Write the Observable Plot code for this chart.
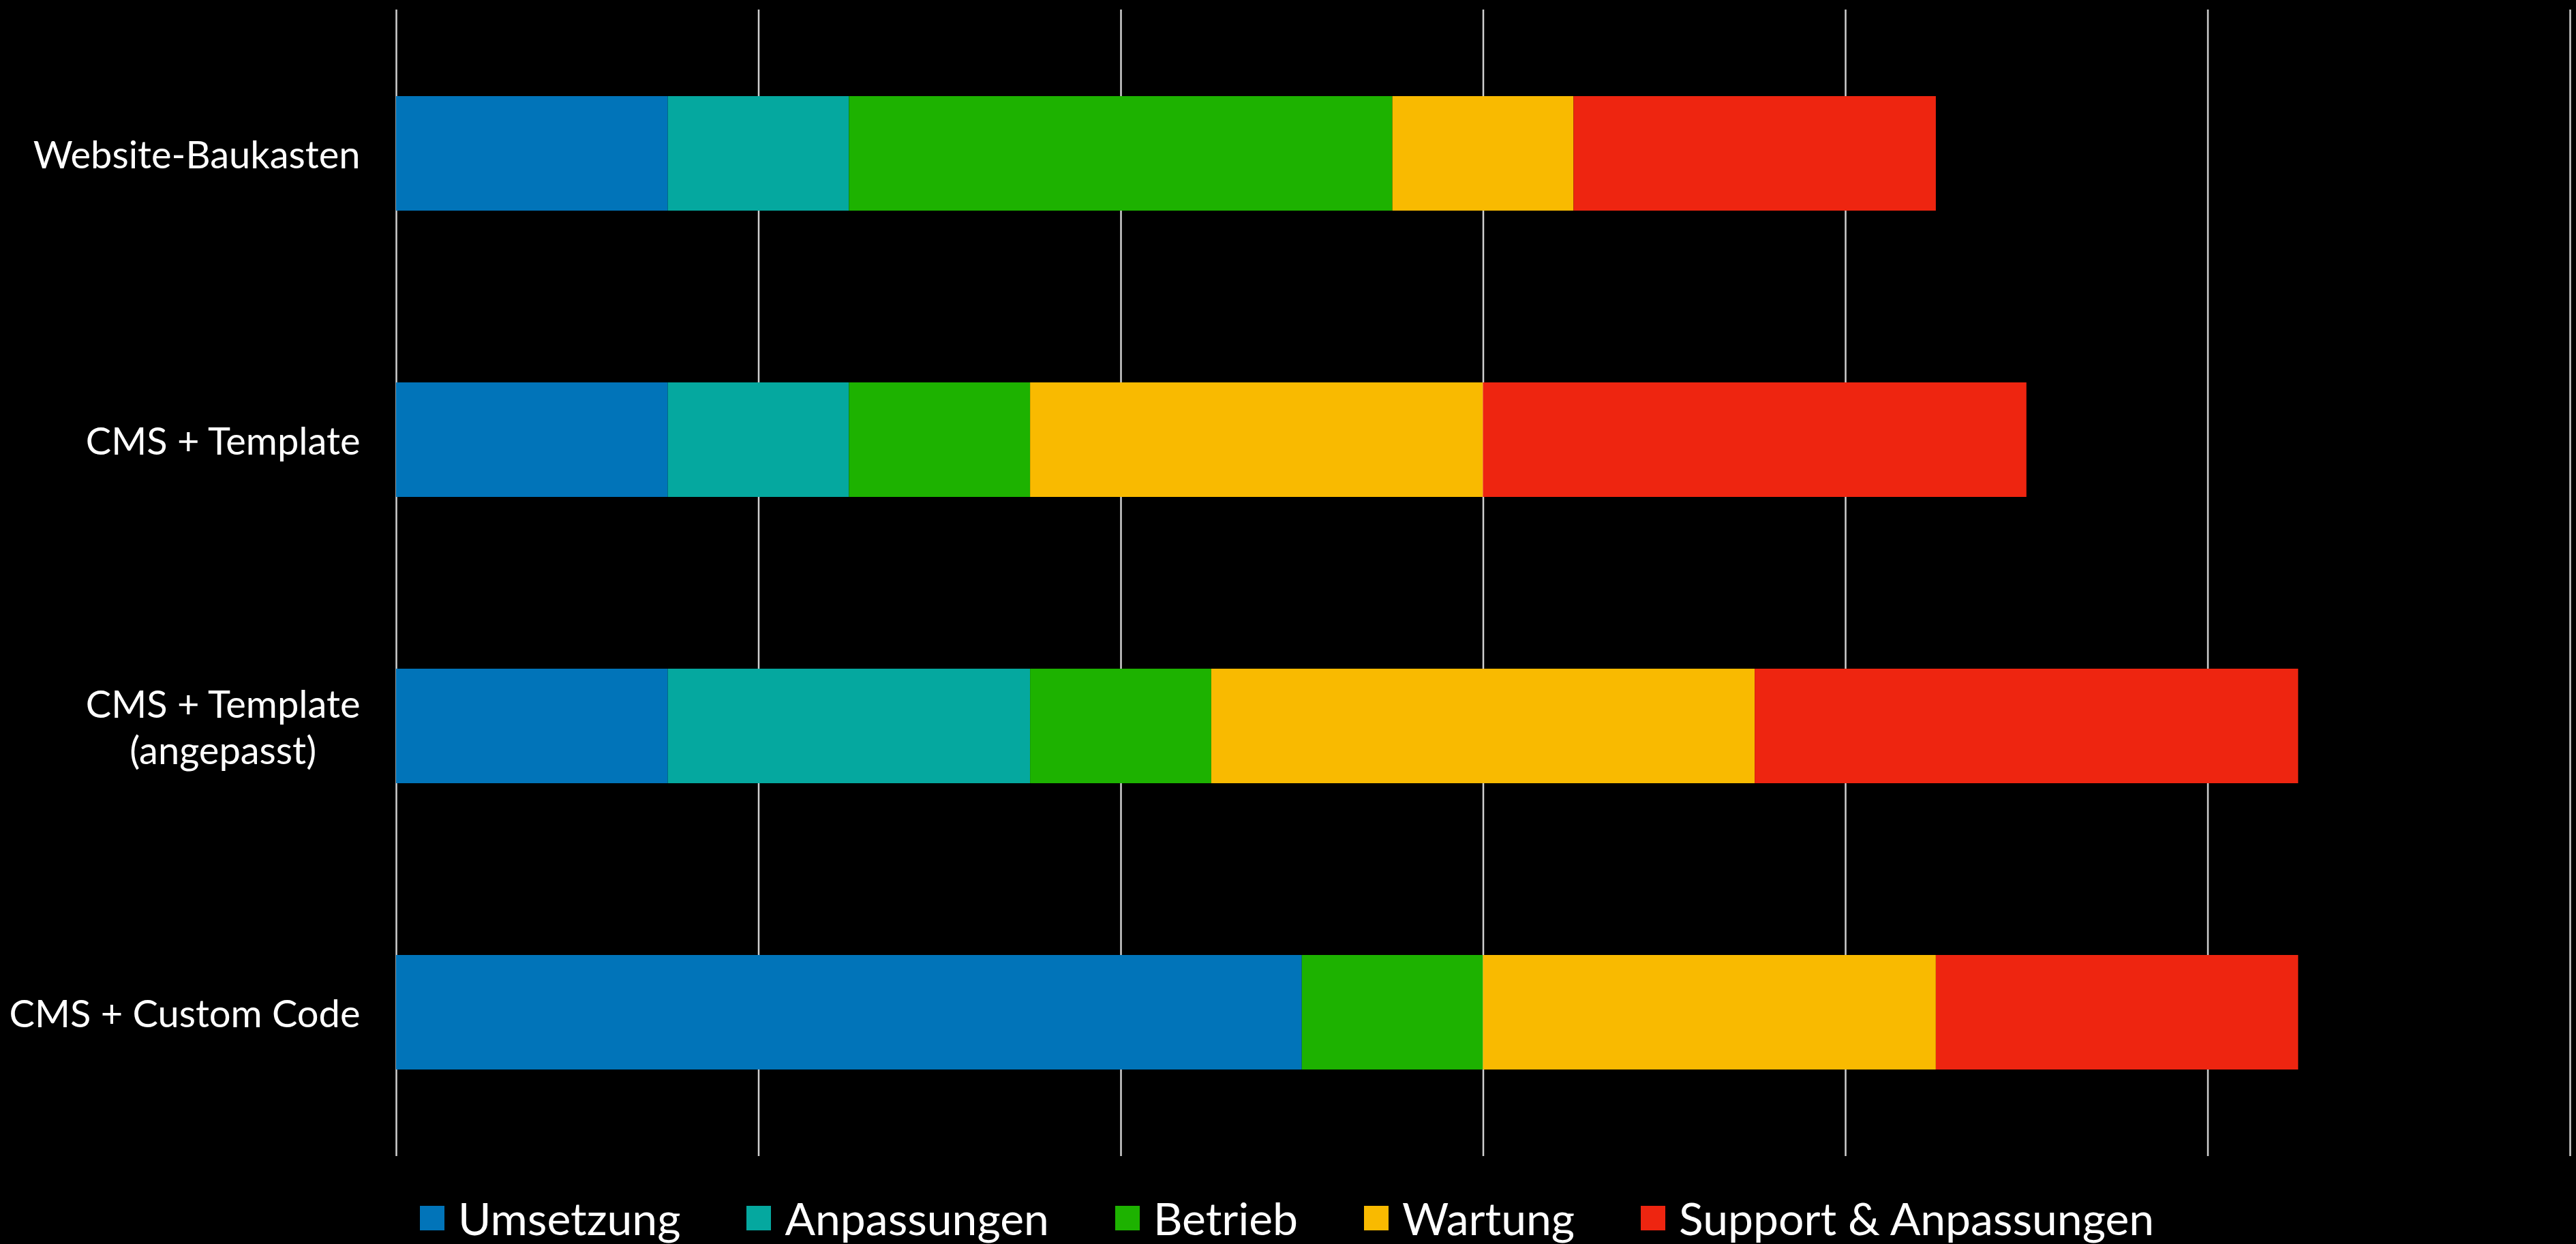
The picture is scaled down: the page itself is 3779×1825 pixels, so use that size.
<!DOCTYPE html>
<html>
<head>
<meta charset="utf-8">
<script src="https://cdn.jsdelivr.net/npm/d3@7"></script>
<script src="https://cdn.jsdelivr.net/npm/@observablehq/plot@0.6"></script>
<style>
  html, body { margin: 0; padding: 0; background: #000; }
  body { width: 3779px; height: 1825px; position: relative; overflow: hidden; font-family: Lato, "Open Sans", sans-serif; }
  #chart { position: absolute; left: 0; top: 0; }
  #legend { position: absolute; left: 616px; top: 1751px; display: flex; align-items: center; gap: 97px; color: #fff; font-size: 66px; line-height: 72px; }
  .item { display: flex; align-items: center; gap: 20px; white-space: nowrap; }
  .sw { width: 36px; height: 36px; flex: none; }
</style>
</head>
<body>
<div id="chart"></div>
<div id="legend"></div>
<script>
const categories = ["Website-Baukasten", "CMS + Template", "CMS + Template\n(angepasst)", "CMS + Custom Code"];
const series = ["Umsetzung", "Anpassungen", "Betrieb", "Wartung", "Support & Anpassungen"];
const colors = ["#0174B9", "#05A89F", "#1DB200", "#F9BA00", "#EE2510"];
const umsetzung   = [1.5, 1.5, 1.5, 5];
const anpassungen = [1, 1, 2, 0];
const betrieb     = [3, 1, 1, 1];
const wartung     = [1, 2.5, 3, 2.5];
const support     = [2, 3, 3, 2];
const xTicks = [0, 2, 4, 6, 8, 10, 12];

const seriesValues = [umsetzung, anpassungen, betrieb, wartung, support];
const data = [];
series.forEach((s, si) => {
  categories.forEach((c, ci) => {
    data.push({category: c, series: s, value: seriesValues[si][ci]});
  });
});

const chart = Plot.plot({
  width: 3779,
  height: 1710,
  marginLeft: 581,
  marginRight: 9,
  marginTop: 14,
  marginBottom: 14,
  style: {background: "#000", color: "#fff", fontFamily: "Lato, 'Open Sans', sans-serif"},
  x: {domain: [0, 12], axis: null},
  y: {domain: categories, paddingInner: 0.6, paddingOuter: 0.3, label: null},
  color: {domain: series, range: colors},
  marks: [
    Plot.gridX(xTicks, {stroke: "#d0d0d0", strokeOpacity: 1, strokeWidth: 2.5}),
    Plot.barX(data, Plot.stackX({y: "category", x: "value", fill: "series", order: series})),
    Plot.axisY({tickSize: 0, tickPadding: 53, fontSize: 56, lineHeight: 1.2, fill: "#fff", label: null})
  ]
});
document.getElementById("chart").appendChild(chart);

// center multi-line tick labels on each other (right edge kept)
chart.querySelectorAll("text").forEach(t => {
  const spans = t.querySelectorAll("tspan");
  if (spans.length > 1) {
    let maxW = 0;
    spans.forEach(s => { maxW = Math.max(maxW, s.getComputedTextLength()); });
    t.setAttribute("text-anchor", "middle");
    spans.forEach(s => s.setAttribute("x", -maxW / 2));
  }
});

const legend = document.getElementById("legend");
series.forEach((s, i) => {
  const item = document.createElement("div");
  item.className = "item";
  const sw = document.createElement("div");
  sw.className = "sw";
  sw.style.background = colors[i];
  const label = document.createElement("span");
  label.textContent = s;
  item.appendChild(sw);
  item.appendChild(label);
  legend.appendChild(item);
});
</script>
</body>
</html>
